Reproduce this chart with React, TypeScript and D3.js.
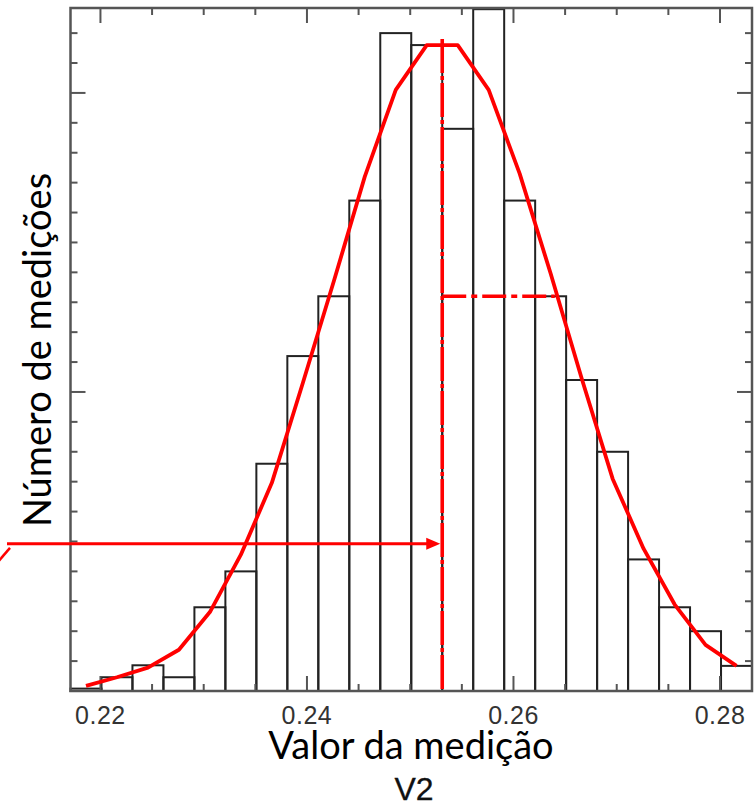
import React from "react";
import * as d3 from "d3";

// histogram bins (lower edges) and their heights
const binStarts = [
  0.2171, 0.2201, 0.2231, 0.2261, 0.2291, 0.2321, 0.2351, 0.2381, 0.2411, 0.2441, 0.2471,
  0.2501, 0.2531, 0.2561, 0.2591, 0.2621, 0.2651, 0.2681, 0.2711, 0.2741, 0.2771, 0.2801,
];
const binWidth = 0.003;
const counts = [0.4, 2.3, 4.3, 2.3, 14, 20, 38, 56, 66, 82, 110, 108, 94, 114, 82, 66, 52, 40, 22, 14, 10, 4.2];

// fitted curve, read at each bin centre
const fitValues = [
  0.85, 2.3, 3.9, 6.9, 13.2, 22.8, 34.8, 51.5, 68.5, 86, 100.5, 108, 108, 100.5, 86.5, 69.8, 52.3, 35.5,
  23.8, 14.5, 7.7, 4.2,
];

const meanValue = 0.2531;
const peakValue = 109;
const sigmaValue = 0.0109;
const sigmaLevel = 66;
const arrowLevel = 24.6;

const xTicks = [0.22, 0.225, 0.23, 0.235, 0.24, 0.245, 0.25, 0.255, 0.26, 0.265, 0.27, 0.275, 0.28];
const xLabels = ["0.22", "0.24", "0.26", "0.28"];
const yTicks = [5, 10, 15, 20, 25, 30, 35, 40, 45, 50, 55, 60, 65, 70, 75, 80, 85, 90, 95, 100, 105, 110];
const yMajor = [50, 100];

const left = 70.5, right = 752, top = 8, bottom = 691;

const App = () => {
  const x = d3.scaleLinear().domain([0.2171, 0.2831]).range([left, right]);
  const y = d3.scaleLinear().domain([0, 114.2]).range([bottom, top]);

  const curve = d3
    .line<number>()
    .x((d, i) => x(binStarts[i] + binWidth / 2))
    .y((d) => y(d));

  const isMajorX = (t: number) => xLabels.includes(t.toFixed(3).replace(/0$/, ""));
  const axisColor = "#555";
  const red = "#ff0000";
  const mx = x(meanValue);
  const ay = y(arrowLevel);

  return (
    <svg width={756} height={806} style={{ position: "absolute", left: 0, top: 0 }}>
      <rect width={756} height={806} fill="#fff" />
      {/* bars */}
      {binStarts.map((b, i) => (
        <rect
          key={i}
          x={x(b)}
          y={y(counts[i])}
          width={x(b + binWidth) - x(b)}
          height={y(0) - y(counts[i])}
          fill="none"
          stroke="#222"
          strokeWidth={2}
        />
      ))}
      {/* frame */}
      <rect x={left} y={top} width={right - left} height={bottom - top} fill="none" stroke={axisColor} strokeWidth={2.5} />
      {xTicks.map((t) => {
        const len = isMajorX(t) ? 15 : 7;
        return (
          <g key={t} stroke={axisColor} strokeWidth={2}>
            <line x1={x(t)} x2={x(t)} y1={bottom} y2={bottom - len} />
            <line x1={x(t)} x2={x(t)} y1={top} y2={top + len} />
          </g>
        );
      })}
      {yTicks.map((t) => {
        const len = yMajor.includes(t) ? 15 : 7;
        return (
          <g key={t} stroke={axisColor} strokeWidth={2}>
            <line x1={left} x2={left + len} y1={y(t)} y2={y(t)} />
            <line x1={right} x2={right - len} y1={y(t)} y2={y(t)} />
          </g>
        );
      })}
      {xLabels.map((l) => (
        <text
          key={l}
          x={x(+l)}
          y={724}
          textAnchor="middle"
          fontFamily="Liberation Sans, Arial, sans-serif"
          fontSize={25}
          letterSpacing={0.5}
          fill="#333"
        >
          {l}
        </text>
      ))}
      {/* fitted curve */}
      <path d={curve(fitValues) ?? ""} fill="none" stroke={red} strokeWidth={3.8} strokeLinejoin="round" />
      {/* mean and sigma markers */}
      <line x1={mx} x2={mx} y1={y(peakValue)} y2={bottom} stroke={red} strokeWidth={3.6} strokeDasharray="34 3 4 3" />
      <line
        x1={mx}
        x2={x(meanValue + sigmaValue)}
        y1={y(sigmaLevel)}
        y2={y(sigmaLevel)}
        stroke={red}
        strokeWidth={3.6}
        strokeDasharray="24 5 6 5"
      />
      {/* arrow */}
      <line x1={7} x2={mx - 14} y1={ay} y2={ay} stroke={red} strokeWidth={3} />
      <path d={`M${mx - 2},${ay} L${mx - 16},${ay - 6} L${mx - 16},${ay + 6} Z`} fill={red} />
      <line x1={10} y1={ay + 4} x2={-2} y2={ay + 18} stroke={red} strokeWidth={2.5} />
      {/* axis titles */}
      <text
        transform={`translate(51,350) rotate(-90)`}
        textAnchor="middle"
        fontFamily="Lato, sans-serif"
        fontSize={38}
        fill="#000"
      >
        Número de medições
      </text>
      <text x={411} y={759} textAnchor="middle" fontFamily="Lato, sans-serif" fontSize={38} fill="#000">
        Valor da medição
      </text>
      <text
        x={414}
        y={800}
        textAnchor="middle"
        fontFamily="Liberation Sans, Arial, sans-serif"
        fontSize={32}
        stroke="#111"
        strokeWidth={0.3}
        fill="#111"
      >
        V2
      </text>
    </svg>
  );
};

export default App;
